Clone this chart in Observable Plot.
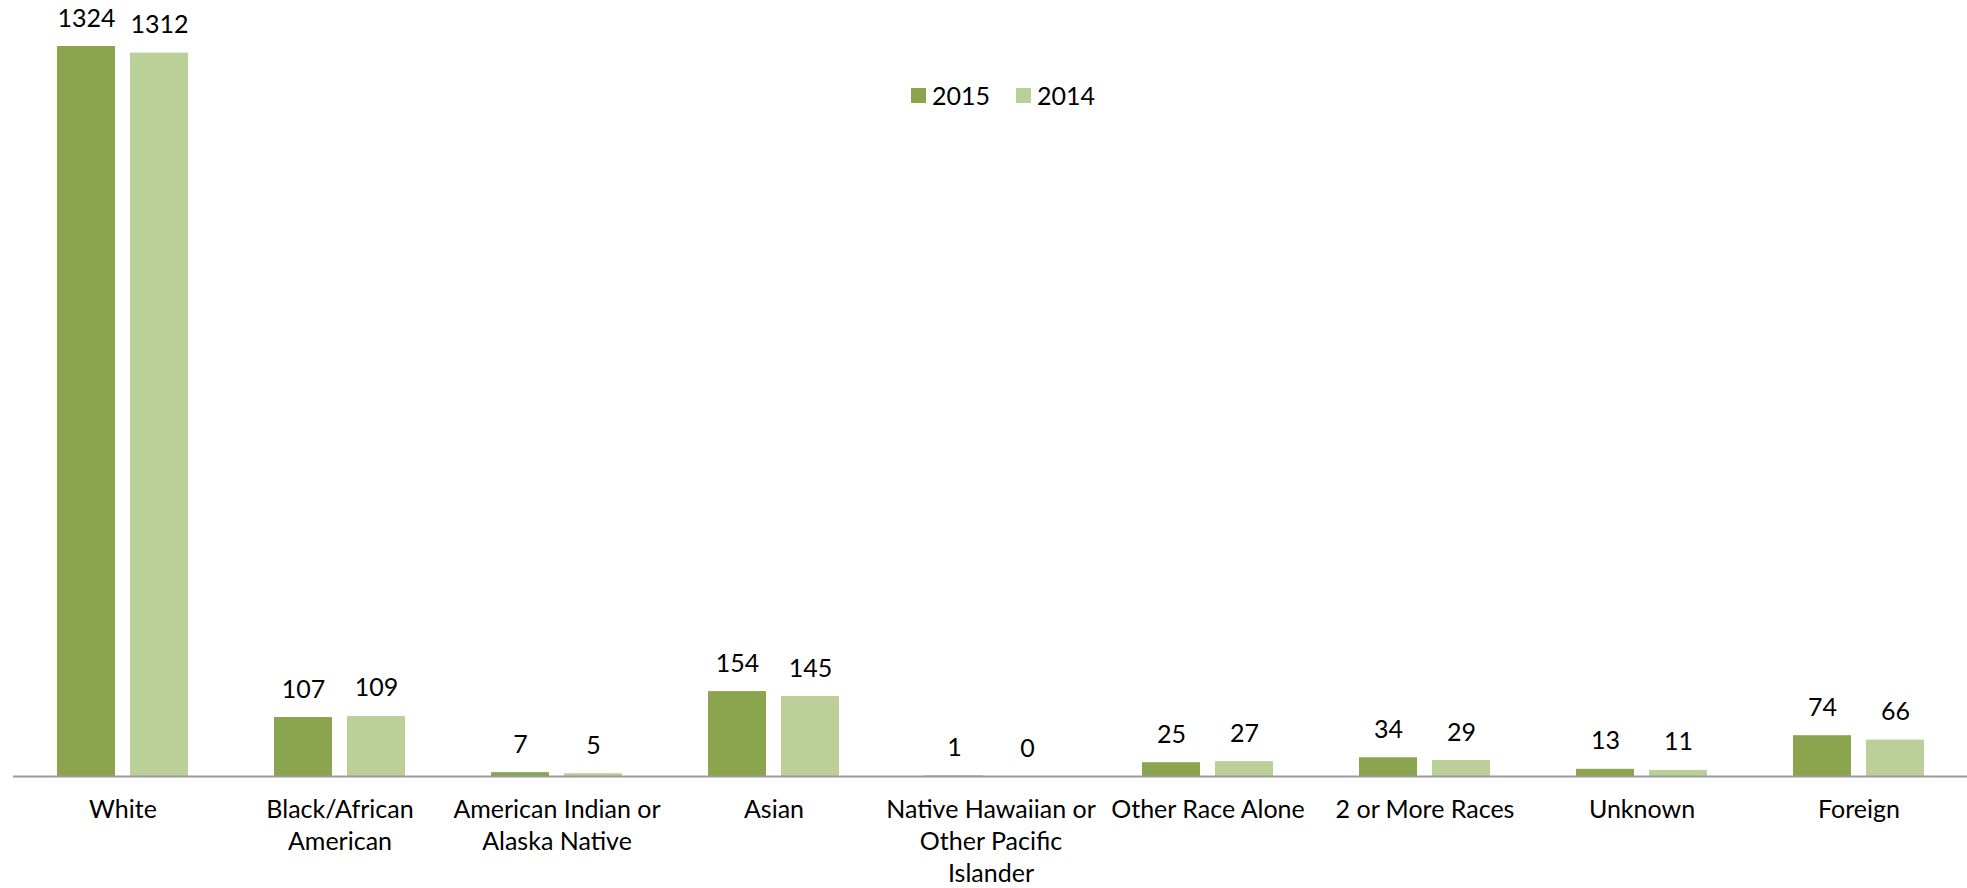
<!DOCTYPE html>
<html>
<head>
<meta charset="utf-8">
<script src="https://cdn.jsdelivr.net/npm/d3@7"></script>
<script src="https://cdn.jsdelivr.net/npm/@observablehq/plot@0.6"></script>
<style>
  html, body { margin: 0; padding: 0; background: #fff; }
  #wrap { position: relative; width: 1967px; height: 888px; overflow: hidden; font-family: Lato, "Open Sans", sans-serif; }
  #legend { position: absolute; top: 80px; left: 911px; display: flex; align-items: center; font-size: 25px; color: #000; }
  #legend .item { display: flex; align-items: center; margin-right: 26px; }
  #legend .sw { width: 15px; height: 15px; margin-right: 6px; }
</style>
</head>
<body>
<div id="wrap">
  <div id="chart"></div>
  <div id="legend"></div>
</div>
<script>
const categories = ["White", "Black/African American", "American Indian or Alaska Native", "Asian", "Native Hawaiian or Other Pacific Islander", "Other Race Alone", "2 or More Races", "Unknown", "Foreign"];
const tickLabels = ["White", "Black/African\nAmerican", "American Indian or\nAlaska Native", "Asian", "Native Hawaiian or\nOther Pacific\nIslander", "Other Race Alone", "2 or More Races", "Unknown", "Foreign"];
const values2015 = [1324, 107, 7, 154, 1, 25, 34, 13, 74];
const values2014 = [1312, 109, 5, 145, 0, 27, 29, 11, 66];
const seriesNames = ["2015", "2014"];
const seriesColors = ["#8ba54e", "#bbcf98"];

const data = categories.map((c, i) => ({cat: c, label: tickLabels[i], v2015: values2015[i], v2014: values2014[i]}));
const FONT = "Lato, 'Open Sans', sans-serif";

const chart = Plot.plot({
  width: 1967,
  height: 888,
  marginLeft: 13,
  marginRight: 0,
  marginTop: 46,
  marginBottom: 112,
  x: {domain: categories, padding: 0, axis: null},
  y: {domain: [0, 1324], axis: null},
  style: {fontFamily: FONT, fontSize: "25px", background: "white", overflow: "visible", color: "#000"},
  marks: [
    Plot.barY(data, {x: "cat", y: "v2015", fill: seriesColors[0], insetLeft: 43, insetRight: 116}),
    Plot.barY(data, {x: "cat", y: "v2014", fill: seriesColors[1], insetLeft: 116, insetRight: 43}),
    Plot.ruleY([0], {stroke: "#9b9b9b", strokeWidth: 2}),
    Plot.text(data, {x: "cat", y: "v2015", text: d => String(d.v2015), dx: -36.5, dy: -28, fontSize: 25, fill: "#000"}),
    Plot.text(data, {x: "cat", y: "v2014", text: d => String(d.v2014), dx: 36.5, dy: -28, fontSize: 25, fill: "#000"}),
    Plot.text(data, {x: "cat", text: "label", frameAnchor: "bottom", lineAnchor: "top", dy: 19, lineHeight: 1.28, fontSize: 25, fill: "#000"})
  ]
});
document.getElementById("chart").appendChild(chart);

const legend = document.getElementById("legend");
seriesNames.forEach((name, i) => {
  const item = document.createElement("div");
  item.className = "item";
  const sw = document.createElement("div");
  sw.className = "sw";
  sw.style.background = seriesColors[i];
  const t = document.createElement("span");
  t.textContent = name;
  item.appendChild(sw);
  item.appendChild(t);
  legend.appendChild(item);
});
</script>
</body>
</html>
